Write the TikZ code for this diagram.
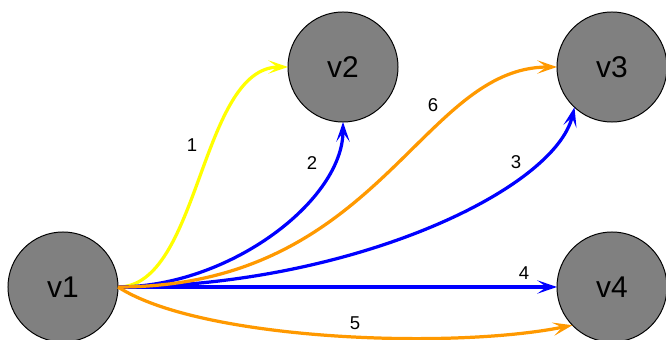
\documentclass[tikz,border=0pt]{standalone}
\usepackage{fontspec}
\setmainfont{Liberation Sans}
\usepackage{xcolor}
\usepackage{tikz}
\usetikzlibrary{arrows.meta}
\definecolor{vgray}{HTML}{808080}
\definecolor{eyellow}{HTML}{FFFF00}
\definecolor{eblue}{HTML}{0000FF}
\definecolor{eorange}{HTML}{FF9900}
\tikzset{
  vertex/.style={circle,draw=black,line width=0.7pt,fill=vgray,minimum size=2.75cm,inner sep=0pt,outer sep=0pt,font=\fontsize{21.3}{24}\selectfont},
  link/.style={-{Stealth[length=14pt,width=9.5pt,inset=6.5pt]},line width=2.3pt},
  wlabel/.style={font=\fontsize{13.2}{15}\selectfont,inner sep=0pt}
}

\begin{document}
\begin{tikzpicture}[x=0.025cm,y=-0.025cm]
  \useasboundingbox (0,0) rectangle (666,340);
  \node[vertex] (v1) at (63,287) {v1};
  \node[vertex] (v2) at (343,67) {v2};
  \node[vertex] (v3) at (612,67) {v3};
  \node[vertex] (v4) at (612,287) {v4};
  % edges out of v1
  \draw[link,eyellow] (v1.east) .. controls (200,287) and (200,67) .. (v2.west);
  \draw[link,eblue] (v1.east) .. controls (230,287) and (343,200) .. (v2.south);
  \draw[link,eblue] (v1.east) .. controls (350,287) and (555,190) .. (v3.227);
  \draw[link,eblue] (v1.east) -- (v4.west);
  \draw[link,eorange] (v1.east) .. controls (200,340) and (450,350) .. (v4.224);
  \draw[link,eorange] (v1.east) .. controls (380,287) and (420,67) .. (v3.west);
  % weights
  \node[wlabel] (w1) at (192,145) {1};
  \node[wlabel] (w2) at (312,163) {2};
  \node[wlabel] (w3) at (516,162) {3};
  \node[wlabel] (w4) at (524,273) {4};
  \node[wlabel] (w5) at (355,323) {5};
  \node[wlabel] (w6) at (433,105) {6};
\end{tikzpicture}
\end{document}
